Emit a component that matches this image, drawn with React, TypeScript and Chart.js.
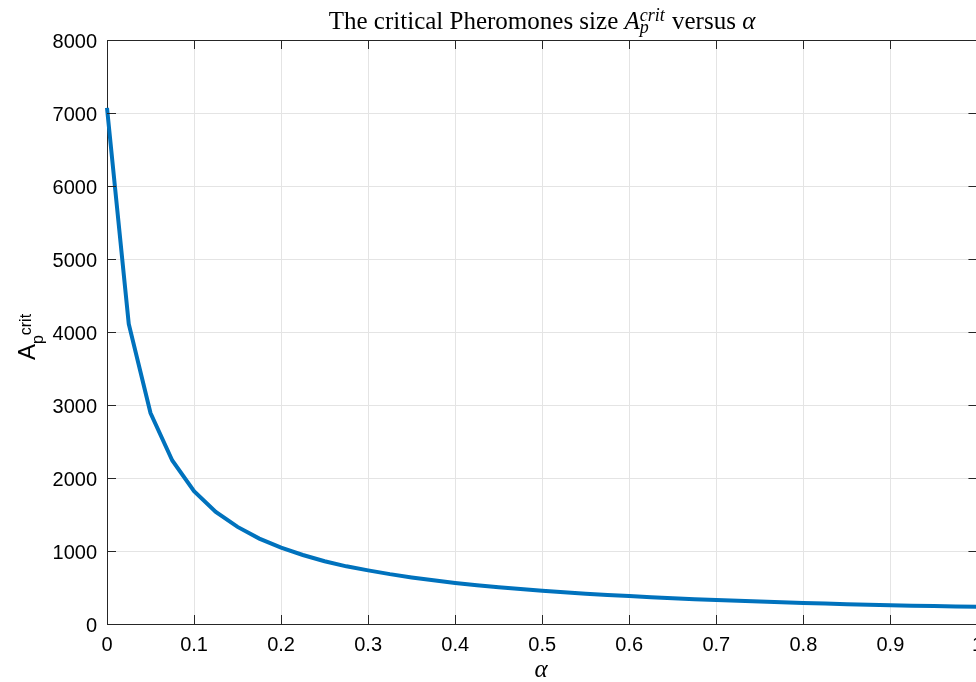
import React, { useEffect, useRef } from "react";
import { Chart, registerables } from "chart.js";

Chart.register(...registerables);

const alphaValues = [
  0, 0.025, 0.05, 0.075, 0.1, 0.125, 0.15, 0.175, 0.2, 0.225, 0.25, 0.275, 0.3, 0.325, 0.35, 0.375, 0.4,
  0.425, 0.45, 0.475, 0.5, 0.525, 0.55, 0.575, 0.6, 0.625, 0.65, 0.675, 0.7, 0.725, 0.75, 0.775, 0.8,
  0.825, 0.85, 0.875, 0.9, 0.925, 0.95, 0.975, 1.0,
];
const criticalSize = [
  7070, 4110, 2890, 2240, 1820, 1535, 1330, 1170, 1045, 945, 860, 790, 735, 683, 638, 598, 563,
  532, 503, 478, 455, 434, 415, 398, 382, 367, 353, 340, 328, 317, 307, 297, 288,
  280, 272, 265, 258, 251, 245, 240, 235,
];
const xTickValues = [0, 0.1, 0.2, 0.3, 0.4, 0.5, 0.6, 0.7, 0.8, 0.9, 1];
const yTickValues = [0, 1000, 2000, 3000, 4000, 5000, 6000, 7000, 8000];

const AXIS_COLOR = "#262626";
const GRID_COLOR = "#e4e4e4";
const LINE_COLOR = "#0072BD";
const SANS = "'Liberation Sans', Arial, sans-serif";
const SERIF = "'Liberation Serif', 'Times New Roman', serif";

type Part = { text: string; italic: boolean; role: string };

const titleParts: Part[] = [
  { text: "The critical Pheromones size ", italic: false, role: "base" },
  { text: "A", italic: true, role: "base" },
  { text: "p", italic: true, role: "sub" },
  { text: "crit", italic: true, role: "sup" },
  { text: " versus ", italic: false, role: "base" },
  { text: "\u03b1", italic: true, role: "base" },
];

const yLabelParts: Part[] = [
  { text: "A", italic: false, role: "base" },
  { text: "p", italic: false, role: "sub" },
  { text: "crit", italic: false, role: "sup" },
];

function drawRich(
  ctx: CanvasRenderingContext2D,
  parts: Part[],
  family: string,
  base: number,
  small: number,
  subDy: number,
  supDy: number,
  cx: number,
  baseline: number,
  stack: boolean
) {
  const fontFor = (p: Part) => `${p.italic ? "italic " : ""}${p.role === "base" ? base : small}px ${family}`;
  const segs: { part: Part; x: number }[] = [];
  let x = 0;
  let i = 0;
  while (i < parts.length) {
    const p = parts[i];
    ctx.font = fontFor(p);
    const w = ctx.measureText(p.text).width;
    if (stack && p.role === "sub" && parts[i + 1] && parts[i + 1].role === "sup") {
      const q = parts[i + 1];
      ctx.font = fontFor(q);
      const w2 = ctx.measureText(q.text).width;
      segs.push({ part: p, x });
      segs.push({ part: q, x });
      x += Math.max(w, w2) + 1;
      i += 2;
      continue;
    }
    segs.push({ part: p, x });
    x += w;
    i += 1;
  }
  const start = cx - x / 2;
  ctx.textAlign = "left";
  ctx.textBaseline = "alphabetic";
  for (const s of segs) {
    ctx.font = fontFor(s.part);
    const dy = s.part.role === "sub" ? subDy : s.part.role === "sup" ? supDy : 0;
    ctx.fillText(s.part.text, start + s.x, baseline + dy);
  }
}

const decorPlugin = {
  id: "decor",
  afterDraw(chart: any) {
    const { ctx, chartArea: a, scales } = chart;
    const xs = scales.x;
    const ys = scales.y;
    ctx.save();
    ctx.strokeStyle = AXIS_COLOR;
    ctx.lineWidth = 1;
    ctx.beginPath();
    ctx.moveTo(a.left, a.top + 0.5);
    ctx.lineTo(a.right, a.top + 0.5);
    ctx.moveTo(a.right - 0.5, a.top);
    ctx.lineTo(a.right - 0.5, a.bottom);
    for (const v of xTickValues) {
      const px = Math.round(xs.getPixelForValue(v)) + 0.5;
      ctx.moveTo(px, a.bottom);
      ctx.lineTo(px, a.bottom - 9);
      ctx.moveTo(px, a.top);
      ctx.lineTo(px, a.top + 9);
    }
    for (const v of yTickValues) {
      const py = Math.round(ys.getPixelForValue(v)) + 0.5;
      ctx.moveTo(a.left, py);
      ctx.lineTo(a.left + 9, py);
      ctx.moveTo(a.right, py);
      ctx.lineTo(a.right - 9, py);
    }
    ctx.stroke();

    const cx = 542;
    ctx.fillStyle = "#000";
    // Title
    drawRich(ctx, titleParts, SERIF, 25, 18, 4, -8, cx, 29, true);

    // X label
    ctx.font = `italic 25px ${SERIF}`;
    ctx.textAlign = "center";
    ctx.textBaseline = "alphabetic";
    ctx.fillText("\u03b1", cx - 1, 677);

    // Y label
    ctx.save();
    ctx.translate(35, 337);
    ctx.rotate(-Math.PI / 2);
    drawRich(ctx, yLabelParts, SANS, 24, 16, 8, -4, 0, 0, false);
    ctx.restore();
    ctx.restore();
  },
};

export default function App() {
  const canvasRef = useRef<HTMLCanvasElement | null>(null);

  useEffect(() => {
    const canvas = canvasRef.current;
    if (!canvas) return;
    const points = alphaValues.map((a, i) => ({ x: a, y: criticalSize[i] }));
    const chart = new Chart(canvas, {
      type: "line",
      data: {
        datasets: [
          {
            data: points,
            borderColor: LINE_COLOR,
            backgroundColor: LINE_COLOR,
            borderWidth: 4,
            pointRadius: 0,
            tension: 0,
            clip: false as any,
          },
        ],
      },
      plugins: [decorPlugin],
      options: {
        animation: false,
        responsive: false,
        devicePixelRatio: 1,
        layout: { padding: { top: 40, right: 11, left: 0, bottom: 0 } },
        plugins: { legend: { display: false }, tooltip: { enabled: false }, title: { display: false } },
        scales: {
          x: {
            type: "linear",
            min: 0,
            max: 1,
            afterBuildTicks: (scale: any) => {
              scale.ticks = xTickValues.map((v) => ({ value: v }));
            },
            afterFit: (scale: any) => {
              scale.height = 58;
            },
            ticks: {
              color: "#000",
              font: { family: SANS, size: 20 },
              padding: 9,
              maxRotation: 0,
              autoSkip: false,
              callback: (v: any) => String(Math.round(Number(v) * 10) / 10),
            },
            grid: { color: GRID_COLOR, lineWidth: 1, drawTicks: false },
            border: { display: true, color: AXIS_COLOR, width: 1 },
          },
          y: {
            type: "linear",
            min: 0,
            max: 8000,
            afterBuildTicks: (scale: any) => {
              scale.ticks = yTickValues.map((v) => ({ value: v }));
            },
            afterFit: (scale: any) => {
              scale.width = 107;
            },
            ticks: {
              color: "#000",
              font: { family: SANS, size: 20 },
              padding: 10,
              labelOffset: 2,
              autoSkip: false,
              callback: (v: any) => String(v),
            },
            grid: { color: GRID_COLOR, lineWidth: 1, drawTicks: false },
            border: { display: true, color: AXIS_COLOR, width: 1 },
          },
        },
      },
    });
    return () => chart.destroy();
  }, []);

  return (
    <div style={{ position: "fixed", left: 0, top: 0, width: 976, height: 682, overflow: "hidden", background: "#fff" }}>
      <canvas ref={canvasRef} width={992} height={682} style={{ width: 992, height: 682, display: "block" }} />
    </div>
  );
}
